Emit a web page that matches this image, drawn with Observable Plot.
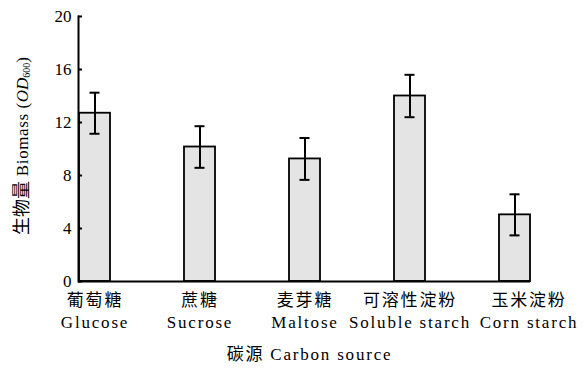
<!DOCTYPE html>
<html>
<head>
<meta charset="utf-8">
<script src="https://cdn.jsdelivr.net/npm/d3@7"></script>
<script src="https://cdn.jsdelivr.net/npm/@observablehq/plot@0.6"></script>
<style>
  body { margin: 0; background: #fff; }
  svg { font-family: "Liberation Serif", "Noto Sans CJK SC", serif; }
  svg g[aria-label="x-axis tick label"] text,
  svg g[aria-label="text"] text { letter-spacing: 1.8px; }
</style>
</head>
<body>
<div id="chart"></div>
<script>
const categoriesZh = ["葡萄糖", "蔗糖", "麦芽糖", "可溶性淀粉", "玉米淀粉"];
const categoriesEn = ["Glucose", "Sucrose", "Maltose", "Soluble starch", "Corn starch"];
const biomass = [12.7, 10.15, 9.25, 14.0, 5.03];
const errors = [1.55, 1.57, 1.58, 1.6, 1.55];
const yTicks = [0, 4, 8, 12, 16, 20];
const xTitle = "碳源 Carbon source";

const data = categoriesEn.map((en, i) => ({
  key: en,
  zh: categoriesZh[i],
  en,
  v: biomass[i],
  lo: biomass[i] - errors[i],
  hi: biomass[i] + errors[i]
}));
const labelOf = Object.fromEntries(data.map(d => [d.key, d.zh + "\n" + d.en]));
const lastKey = categoriesEn[categoriesEn.length - 1];

const chart = Plot.plot({
  width: 588,
  height: 369,
  marginLeft: 78,
  marginRight: 58,
  marginTop: 16,
  marginBottom: 88,
  style: { fontFamily: '"Liberation Serif", "Noto Sans CJK SC", serif', fontSize: "17px", color: "#000", background: "#fff" },
  x: { type: "band", domain: categoriesEn, paddingInner: 0.705, paddingOuter: 0, label: null },
  y: { domain: [0, 20], label: null },
  marks: [
    Plot.barY(data, { x: "key", y: "v", fill: "#e4e4e4", stroke: "#000", strokeWidth: 1.8 }),
    Plot.ruleX(data, { x: "key", y1: "lo", y2: "hi", stroke: "#000", strokeWidth: 2 }),
    Plot.tickY(data, { x: "key", y: "hi", stroke: "#000", strokeWidth: 2, insetLeft: 10.5, insetRight: 10.5 }),
    Plot.tickY(data, { x: "key", y: "lo", stroke: "#000", strokeWidth: 2, insetLeft: 10.5, insetRight: 10.5 }),
    Plot.ruleY([0], { stroke: "#000", strokeWidth: 2 }),
    Plot.frame({ anchor: "left", stroke: "#000", strokeWidth: 2 }),
    Plot.axisY({ ticks: yTicks, tickSize: -4, tickPadding: 11, stroke: "#000", strokeWidth: 2, fontSize: 17, fill: "#000" }),
    Plot.axisX({ ticks: categoriesEn.slice(0, -1), tickSize: 0, tickPadding: 9, tickFormat: d => labelOf[d], lineHeight: 1.3, fontSize: 17, fill: "#000" }),
    Plot.axisX({ ticks: [lastKey], tickSize: 0, tickPadding: 9, dx: 14, tickFormat: d => labelOf[d], lineHeight: 1.3, fontSize: 17, fill: "#000" }),
    Plot.text([xTitle], { frameAnchor: "bottom", dy: 78, dx: 5, fontSize: 17, fill: "#000" })
  ]
});

// y-axis title with italic OD and subscript 600
const svg = d3.select(chart);
const t = svg.append("text")
  .attr("transform", "translate(24,146) rotate(-90)")
  .attr("text-anchor", "middle")
  .attr("dominant-baseline", "middle")
  .attr("font-size", 17)
  .attr("fill", "#000");
t.append("tspan").attr("font-size", 18).text("生物量");
t.append("tspan").attr("letter-spacing", 0.6).text(" Biomass (");
t.append("tspan").attr("font-style", "italic").text("OD");
t.append("tspan").attr("font-size", 10).attr("dy", 4).text("600");
t.append("tspan").attr("dy", -4).text(")");

document.getElementById("chart").appendChild(chart);
</script>
</body>
</html>
